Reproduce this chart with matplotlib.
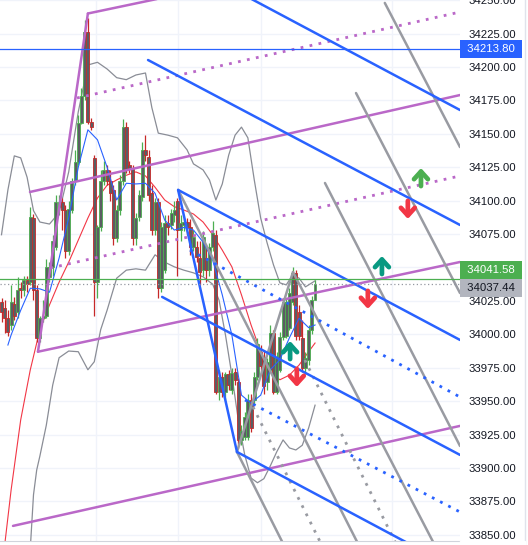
import matplotlib
matplotlib.use('Agg')
import matplotlib.pyplot as plt
import matplotlib.transforms as mtransforms
from matplotlib.patches import Rectangle
from matplotlib.lines import Line2D
import numpy as np

plt.rcParams['font.family'] = ['Liberation Sans', 'DejaVu Sans']

# Candles (bar index = position)
opens = [34024, 34020, 34012, 34007, 34023, 34017, 34035, 34033, 34041, 34039,
         34087, 34033, 33997, 34012, 34014, 34043, 34050, 34065, 34095, 34099,
         34093, 34062, 34093, 34115, 34129, 34158, 34178, 34226, 34159, 34132,
         34039, 34080, 34115, 34123, 34115, 34108, 34072, 34093, 34115, 34155,
         34127, 34124, 34072, 34088, 34103, 34138, 34133, 34106, 34078, 34099,
         34035, 34048, 34083, 34082, 34089, 34100, 34078, 34082, 34084, 34080,
         34065, 34065, 34057, 34048, 34057, 34048, 34065, 34074, 33957, 33968,
         33957, 33970, 33958, 33972, 33964, 33921, 33923, 33923, 33951, 33951,
         33968, 33987, 33983, 33964, 33973, 34001, 33957, 33973, 33998, 33999,
         34005, 34024, 34046, 34017, 33997, 33975, 33981, 34003, 34026]
closes = [34017, 34012, 34002, 34024, 34014, 34033, 34033, 34041, 34038, 34088,
          34033, 33997, 34012, 34014, 34050, 34050, 34070, 34099, 34099, 34093,
          34062, 34094, 34115, 34129, 34158, 34178, 34226, 34159, 34155, 34039,
          34080, 34115, 34123, 34115, 34106, 34072, 34093, 34115, 34155, 34124,
          34124, 34072, 34087, 34104, 34138, 34134, 34104, 34078, 34099, 34035,
          34080, 34083, 34080, 34091, 34093, 34078, 34083, 34084, 34080, 34065,
          34073, 34058, 34047, 34073, 34048, 34065, 34076, 33957, 33968, 33957,
          33970, 33962, 33971, 33966, 33921, 33928, 33938, 33951, 33930, 33968,
          33993, 33976, 33961, 33979, 34001, 33957, 33983, 33998, 34024, 34024,
          34031, 34046, 33999, 33999, 33975, 33982, 34003, 34026, 34037.44]
highs = [34027, 34026, 34018, 34037, 34028, 34043, 34039, 34044, 34044, 34095,
         34090, 34037, 34014, 34026, 34056, 34054, 34074, 34104, 34104, 34102,
         34097, 34100, 34117, 34138, 34164, 34184, 34235, 34237, 34162, 34134,
         34082, 34123, 34130, 34127, 34123, 34112, 34097, 34119, 34161, 34159,
         34130, 34127, 34091, 34108, 34144, 34149, 34138, 34112, 34102, 34102,
         34084, 34089, 34089, 34094, 34100, 34102, 34089, 34087, 34087, 34086,
         34078, 34070, 34070, 34077, 34065, 34068, 34085, 34078, 33973, 33972,
         33972, 33973, 33975, 33975, 33967, 33932, 33942, 33955, 33955, 33972,
         33997, 33992, 33988, 33982, 34007, 34003, 33987, 34002, 34027, 34027,
         34035, 34050, 34048, 34022, 34011, 33987, 34007, 34029, 34041]
lows = [34009, 34001, 33999, 34003, 34011, 34012, 34027, 34029, 34032, 34037,
        34026, 33994, 33994, 34009, 34012, 34039, 34044, 34063, 34089, 34078,
        34057, 34059, 34091, 34112, 34127, 34157, 34175, 34157, 34153, 34014,
        34027, 34077, 34112, 34112, 34100, 34067, 34069, 34089, 34112, 34121,
        34121, 34067, 34067, 34085, 34100, 34130, 34100, 34074, 34074, 34027,
        34032, 34046, 34074, 34079, 34084, 34044, 34070, 34077, 34074, 34059,
        34062, 34054, 34037, 34044, 34039, 34044, 34062, 33955, 33951, 33953,
        33951, 33958, 33955, 33962, 33915, 33917, 33921, 33921, 33927, 33947,
        33966, 33972, 33955, 33958, 33972, 33955, 33955, 33972, 33996, 33997,
        34003, 34022, 33996, 33996, 33972, 33970, 33977, 34000, 34026]

# Indicators
ma_fast_x = [2, 3, 6, 9, 12, 15, 18, 21, 24, 27, 30, 33, 36, 39, 42, 45, 48, 51, 54, 57,
             60, 63, 66, 69, 72, 75, 78, 81, 84, 87, 90, 93, 96, 98]
ma_fast = [33992, 33999.5, 34018, 34034.5, 34034, 34031.5, 34057, 34087, 34125, 34153,
           34145.5, 34125, 34100.5, 34113, 34112.5, 34113, 34105.5, 34085.5, 34078, 34080,
           34078, 34069, 34055.5, 34029.5, 33999.5, 33954.5, 33948.5, 33954.5, 33973.5,
           33981, 33997.5, 34012, 34005, 34007]
ma_slow_x = [1, 3, 6, 9, 12, 15, 18, 21, 24, 27, 30, 33, 36, 39, 42, 45, 48, 51, 54, 57,
             60, 63, 66, 69, 72, 75, 78, 81, 84, 87, 90, 93, 96, 98]
ma_slow = [33842.5, 33883.5, 33936, 33973.5, 34003.5, 34022, 34039, 34054, 34070.5, 34087,
           34102, 34111.5, 34115.5, 34119, 34121.5, 34118.5, 34110, 34100.5, 34095.5, 34093,
           34090, 34084, 34074.5, 34063, 34050.5, 34029.5, 34007, 33987, 33972, 33966,
           33969.5, 33977, 33987, 33993.5]
band_up_x = [0, 2, 4, 6, 8, 10, 12, 15, 18, 21, 24, 27, 30, 33, 36, 39, 42, 45, 47, 49,
             52, 55, 58, 60, 63, 65, 67, 69, 71, 73, 75, 77, 79, 81, 83, 85, 87, 89, 91,
             93, 95, 97, 98]
band_up = [34074.5, 34108, 34133.5, 34132, 34117.5, 34092.5, 34084, 34082.5, 34091,
           34121.5, 34166.5, 34201.5, 34203.5, 34198.5, 34192, 34190.5, 34194, 34195.5,
           34169.5, 34150.5, 34149, 34147, 34138, 34127.5, 34123, 34115.5, 34100.5,
           34112.5, 34134, 34149, 34155, 34147, 34115.5, 34087, 34068.5, 34052, 34038.5,
           34037, 34044.5, 34042, 34035.5, 34038.5, 34040]
band_lo_x = [9, 10, 11, 12, 14, 16, 18, 21, 24, 27, 29, 31, 33, 36, 39, 42, 45, 48, 51, 54,
             57, 60, 63, 66, 68, 70, 72, 74, 76, 78, 80, 82, 84, 86, 88, 90, 92, 94, 96, 98]
band_lo = [33840, 33880, 33898.5, 33909, 33932, 33962, 33982.5, 33987.5, 33987, 33973.5,
           33979.5, 34003.5, 34018, 34042, 34048, 34049, 34048, 34059.5, 34054, 34050.5,
           34048, 34046, 34043, 34037.5, 34025.5, 33999.5, 33969.5, 33936, 33910, 33892.5,
           33889, 33892, 33901.5, 33912, 33921, 33915, 33913.5, 33917, 33930, 33947]

# Drawings: ((bar, price), (bar, price))
purple_solid = [((11.4, 33987), (27.0, 34240)),
                ((27.0, 34240), (143.3, 34298.5)),
                ((8.9, 34106.5), (143.3, 34179.0)),
                ((11.4, 33987), (143.3, 34054.1)),
                ((3.6, 33856.7), (143.3, 33931.5))]
purple_dotted = [((23.6, 34176.8), (143.3, 34241.1)),
                 ((15.2, 34049.6), (143.3, 34118.5))]
blue_solid = [((77.7, 34251.4), (143.3, 34167.8)),
              ((45.8, 34205.2), (143.3, 34081.8)),
              ((55.2, 34108), (143.3, 33995.8)),
              ((50.2, 34028), (143.3, 33909.8)),
              ((73.6, 33912), (143.3, 33823)),
              ((55.2, 34108), (73.6, 33912))]
blue_dotted = [((58.9, 34063), (143.3, 33953.1)),
               ((76.1, 33950.9), (143.3, 33867.1))]
gray_solid = [((73.6, 33912), (91.1, 34046.6)),
              ((73.6, 33912), (90.0, 33834)),
              ((55.2, 34108), (113.0, 33836)),
              ((91.1, 34046.6), (137.0, 33835)),
              ((101.1, 34113.2), (143.3, 33916.5)),
              ((110.8, 34180.5), (143.3, 34030.9)),
              ((119.8, 34247.9), (143.3, 34140.1))]
gray_dotted = [((78.6, 33945.7), (100.5, 33840.4)),
               ((94.8, 33980.8), (124.0, 33840))]

# Signal arrows (tip position)
arrow_x = [131.1, 127.0, 118.9, 114.5, 90.2, 92.3]
arrow_y = [34124.4, 34086.3, 34058.6, 34019.0, 33995.0, 33960.6]
arrow_up = [True, False, True, False, True, False]
arrow_col = ['#4caf50', '#f23645', '#089981', '#f23645', '#089981', '#f23645']

hline_high = 34213.80
hline_green = 34041.58
last_price = 34037.44
time_grid = [29.5, 55.2, 81.1, 122.0]
yticks = np.arange(33850, 34251, 25)

fig = plt.figure(figsize=(5.28, 5.45), dpi=100)
ax = fig.add_axes([0, 4 / 545, 460 / 528, 541 / 545])
ax.set_xlim(-0.47, 143.3)
ax.set_ylim(33845.4, 34250.1)

for t in yticks:
    ax.axhline(t, color='#f0f3fa', lw=1, zorder=0)
for t in time_grid:
    ax.axvline(t, color='#f0f3fa', lw=1, zorder=0)

# indicators
ax.plot(band_up_x, band_up, color='#8a8d96', lw=0.9, zorder=2)
ax.plot(band_lo_x, band_lo, color='#8a8d96', lw=0.9, zorder=2)
ax.plot(ma_slow_x, ma_slow, color='#f23645', lw=0.8, zorder=2)
ax.plot(ma_fast_x, ma_fast, color='#2962ff', lw=0.8, zorder=4)

# candles
for i in range(len(opens)):
    o, c, h, l = opens[i], closes[i], highs[i], lows[i]
    col = '#4caf50' if c >= o else '#c62828'
    ax.vlines(i, l, h, color=col, lw=0.9, zorder=3)
    ax.add_patch(Rectangle((i - 0.45, min(o, c)), 0.9, max(abs(c - o), 0.6),
                           facecolor='#5b5d63', edgecolor=col, lw=0.6, zorder=3))

# drawing tools
def draw(lines, color, ls='-', lw=1.8):
    for (x0, y0), (x1, y1) in lines:
        ax.plot([x0, x1], [y0, y1], color=color, lw=lw, ls=ls, zorder=5,
                solid_capstyle='round')

draw(purple_solid, '#ba68c8')
draw(purple_dotted, '#ba68c8', ls=(0, (1, 2.3)), lw=2)
draw(gray_solid, '#999ba2')
draw(gray_dotted, '#999ba2', ls=(0, (1, 2.3)), lw=2)
draw(blue_solid, '#2962ff')
draw(blue_dotted, '#2962ff', ls=(0, (1, 2.3)), lw=2)

ax.axhline(hline_high, color='#2962ff', lw=0.9, zorder=5)
ax.axhline(hline_green, color='#4caf50', lw=0.9, zorder=5)
ax.axhline(last_price, color='#9598a1', lw=0.9, ls=(0, (1, 2)), zorder=5)

for x, y, up, col in zip(arrow_x, arrow_y, arrow_up, arrow_col):
    ax.annotate('', xy=(x, y), xytext=(0, -13 if up else 13), textcoords='offset points',
                arrowprops=dict(arrowstyle='->,head_length=0.55,head_width=0.5',
                                color=col, lw=3.4, shrinkA=0, shrinkB=0), zorder=6)

# right price scale
ax.yaxis.tick_right()
ax.set_yticks(yticks)
ax.set_yticklabels(['' if t == 34050 else f'{t:.2f}' for t in yticks])
ax.tick_params(axis='y', length=0, pad=6, labelsize=8.2, labelcolor='#131722')
ax.set_xticks([])
for s in ['top', 'left', 'right']:
    ax.spines[s].set_visible(False)
ax.spines['bottom'].set_color('#d1d4dc')

trans = mtransforms.blended_transform_factory(ax.transAxes, ax.transData)
def price_box(val, face, txtcol, dy):
    tr = mtransforms.offset_copy(trans, fig=fig, y=dy, units='points')
    ax.text(1.008, val, f' {val:.2f} ', transform=tr, ha='left', va='center',
            fontsize=8.2, color=txtcol, clip_on=False, zorder=10,
            bbox=dict(boxstyle='square,pad=0.35', fc=face, ec='none'))

price_box(hline_high, '#2962ff', 'white', 0)
price_box(hline_green, '#4caf50', 'white', 6.5)
price_box(last_price, '#b2b5be', '#131722', -2.5)

fig.add_artist(Line2D([525 / 528, 525 / 528], [0, 1], color='#e0e3eb', lw=1))
fig.add_artist(Rectangle((460 / 528, 0), 65 / 528, 4 / 545, color='white', zorder=20))

fig.savefig('out.png', dpi=100)
